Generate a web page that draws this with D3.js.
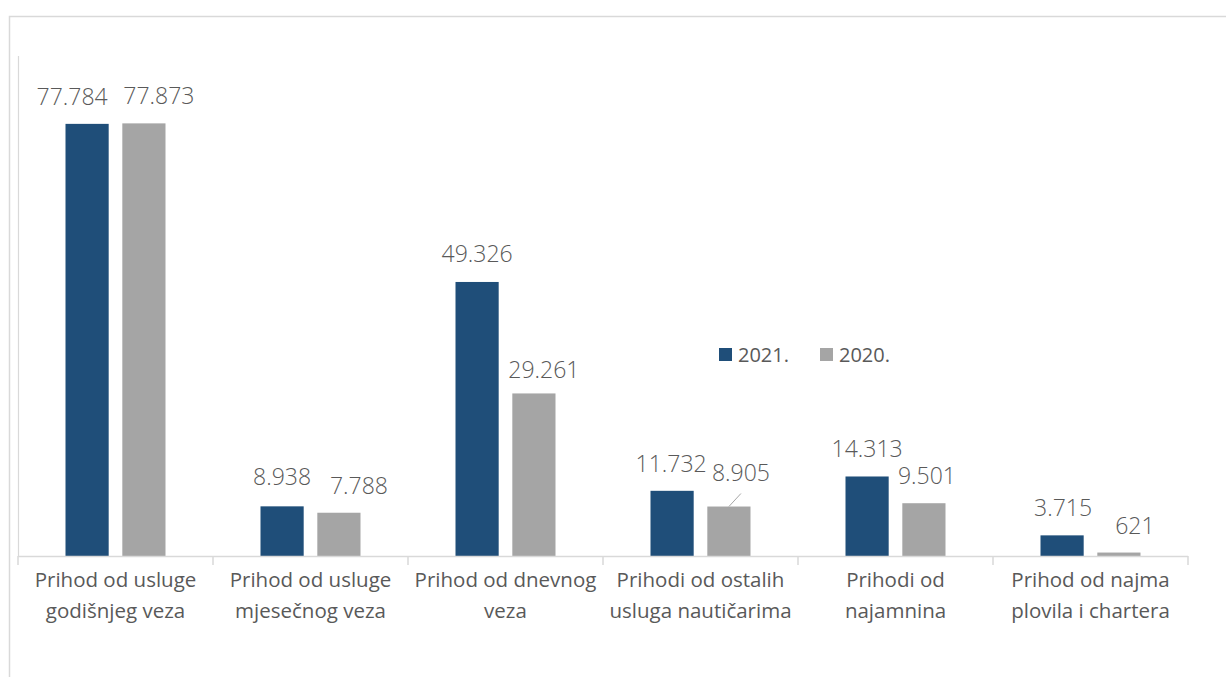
<!DOCTYPE html>
<html>
<head>
<meta charset="utf-8">
<script src="https://cdn.jsdelivr.net/npm/d3@7"></script>
<style>
  body { margin: 0; background: #fff; }
  svg text { font-family: 'Open Sans', 'Noto Sans', sans-serif; fill: #595959; }
</style>
</head>
<body>
<svg id="chart" width="1226" height="677"></svg>
<script>
// podaci
const categories = [
  'Prihod od usluge godišnjeg veza',
  'Prihod od usluge mjesečnog veza',
  'Prihod od dnevnog veza',
  'Prihodi od ostalih usluga nautičarima',
  'Prihodi od najamnina',
  'Prihod od najma plovila i chartera'
];
const seriesNames = ['2021.', '2020.'];
const values2021 = [77784, 8938, 49326, 11732, 14313, 3715];
const values2020 = [77873, 7788, 29261, 8905, 9501, 621];
const yTicks = [0, 90000];

// layout
const W = 1226, H = 677;
const plot = { left: 18, right: 1188, top: 56, bottom: 556 };
const colors = ['#1f4e79', '#a5a5a5'];
// pomaci oznaka (Excel ih je razmaknuo da se ne preklapaju)
const labelNudge = [
  [[-15, 0], [0, -2], [0, -1], [-1, 0], [0, 0], [1, 0]],
  [[15, 0], [20, 0], [10, 4], [12, -7], [3, 0], [16, 0]]
];

const svg = d3.select('#chart');

// okvir
svg.append('rect')
  .attr('x', 9.5).attr('y', 16.5)
  .attr('width', W + 10).attr('height', H + 10)
  .attr('fill', 'none')
  .attr('stroke', '#d9d9d9')
  .attr('stroke-width', 1.5);

const x0 = d3.scaleBand()
  .domain(categories)
  .range([plot.left, plot.right])
  .paddingInner(0)
  .paddingOuter(0);

const x1 = d3.scaleBand()
  .domain(seriesNames)
  .range([0, 100])
  .paddingInner(12 / 50)
  .paddingOuter(0);

const y = d3.scaleLinear()
  .domain(d3.extent(yTicks))
  .range([plot.bottom, plot.top]);

// lijeva os (samo linija)
svg.append('line')
  .attr('x1', plot.left + 0.5).attr('x2', plot.left + 0.5)
  .attr('y1', plot.top).attr('y2', plot.bottom)
  .attr('stroke', '#d9d9d9')
  .attr('stroke-width', 1.2);

const series = [values2021, values2020];
const groupOffset = (x0.bandwidth() - 100) / 2;

series.forEach((vals, si) => {
  const g = svg.append('g');
  g.selectAll('rect')
    .data(vals)
    .join('rect')
    .attr('x', (d, i) => x0(categories[i]) + groupOffset + x1(seriesNames[si]))
    .attr('y', d => y(d))
    .attr('width', x1.bandwidth())
    .attr('height', d => y(0) - y(d))
    .attr('fill', colors[si]);
});

// donja os
const xAxis = svg.append('g')
  .attr('transform', `translate(0,${plot.bottom})`);
xAxis.append('line')
  .attr('x1', plot.left).attr('x2', plot.right)
  .attr('y1', 0.5).attr('y2', 0.5)
  .attr('stroke', '#d9d9d9').attr('stroke-width', 1.5);
const bounds = categories.map(c => x0(c)).concat([plot.right]);
xAxis.selectAll('line.tick')
  .data(bounds)
  .join('line')
  .attr('class', 'tick')
  .attr('x1', d => d).attr('x2', d => d)
  .attr('y1', 0).attr('y2', 9)
  .attr('stroke', '#d9d9d9').attr('stroke-width', 1.5);

const catLabels = xAxis.selectAll('text.cat')
  .data(categories)
  .join('text')
  .attr('class', 'cat')
  .attr('x', d => x0(d) + x0.bandwidth() / 2)
  .attr('y', 31)
  .attr('text-anchor', 'middle')
  .style('font-size', '20.5px')
  .text(d => d);
catLabels.each(function(d) { wrap(d3.select(this), 190); });

function wrap(text, width) {
  const words = text.text().split(/\s+/);
  const x = text.attr('x');
  text.text(null);
  let line = [];
  let tspan = text.append('tspan').attr('x', x).attr('dy', 0);
  words.forEach(w => {
    line.push(w);
    tspan.text(line.join(' '));
    if (tspan.node().getComputedTextLength() > width && line.length > 1) {
      line.pop();
      tspan.text(line.join(' '));
      line = [w];
      tspan = text.append('tspan').attr('x', x).attr('dy', 31).text(w);
    }
  });
}

// oznake vrijednosti
const fmt = v => d3.format(',')(v).replace(/,/g, '.');
series.forEach((vals, si) => {
  vals.forEach((v, i) => {
    const cx = x0(categories[i]) + groupOffset + x1(seriesNames[si]) + x1.bandwidth() / 2;
    const top = y(v);
    const [dx, dy] = labelNudge[si][i];
    svg.append('text')
      .attr('x', cx + dx)
      .attr('y', top - 19 + dy)
      .attr('text-anchor', 'middle')
      .style('font-size', '23px')
      .style('font-weight', 300)
      .text(fmt(v));
    // linija vodilica za pomaknutu oznaku
    if (Math.abs(dy) > 5) {
      svg.append('line')
        .attr('x1', cx).attr('y1', top)
        .attr('x2', cx + dx).attr('y2', top - 13)
        .attr('stroke', '#a6a6a6').attr('stroke-width', 1);
    }
  });
});

// legenda
const legend = svg.append('g').attr('transform', 'translate(719,348)');
seriesNames.forEach((name, i) => {
  const item = legend.append('g').attr('transform', `translate(${i * 101},0)`);
  item.append('rect')
    .attr('width', 13).attr('height', 13)
    .attr('fill', colors[i]);
  item.append('text')
    .attr('x', 19).attr('y', 14)
    .style('font-size', '20px')
    .text(name);
});
</script>
</body>
</html>
